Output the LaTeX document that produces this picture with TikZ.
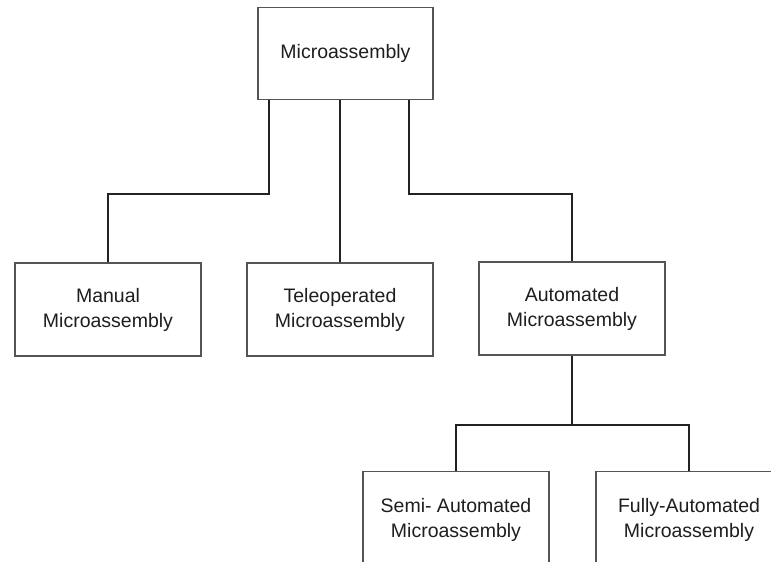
\documentclass[tikz,border=0pt]{standalone}
\usepackage{fontspec}
\setmainfont{Liberation Sans}
\usetikzlibrary{calc}
\definecolor{boxline}{HTML}{555555}
\definecolor{wire}{HTML}{222222}
\definecolor{ink}{HTML}{1E1E1E}
\begin{document}
\begin{tikzpicture}[x=1pt,y=-1pt,
  box/.style={draw=boxline, line width=1.4pt, fill=white, rectangle,
    minimum width=186pt, minimum height=93pt, inner sep=0pt,
    align=center, text=ink, font=\fontsize{19.5}{25}\selectfont},
  wireline/.style={draw=wire, line width=2pt}]
  \useasboundingbox (0,0) rectangle (771,562);
  \begin{scope}
  \clip (0,0) rectangle (771,562);
  % boxes
  \node[box, minimum width=175pt, minimum height=92pt] (top) at (345.5,53.5) {Microassembly};
  \node[box] (manual) at (108,309.5) {Manual\\Microassembly};
  \node[box] (tele) at (340,309.5) {Teleoperated\\Microassembly};
  \node[box] (auto) at (572,308.5) {Automated\\Microassembly};
  \node[box, minimum height=96pt] (semi) at (456,519.5) {Semi- Automated\\Microassembly};
  \node[box, minimum height=96pt] (fully) at (689,519.5) {Fully-Automated\\Microassembly};
  % connectors from the root
  \draw[wireline] ([xshift=-76.5pt]top.south) -- ++(0,93.5) -| (manual.north);
  \draw[wireline] (top.south -| tele.north) -- (tele.north);
  \draw[wireline] ([xshift=63.5pt]top.south) -- ++(0,93.5) -| (auto.north);
  % connectors below the automated branch
  \draw[wireline] (auto.south) -- ++(0,69) coordinate (fork);
  \draw[wireline] (fork) -| (semi.north);
  \draw[wireline] (fork) -| (fully.north);
  \end{scope}
\end{tikzpicture}
\end{document}
